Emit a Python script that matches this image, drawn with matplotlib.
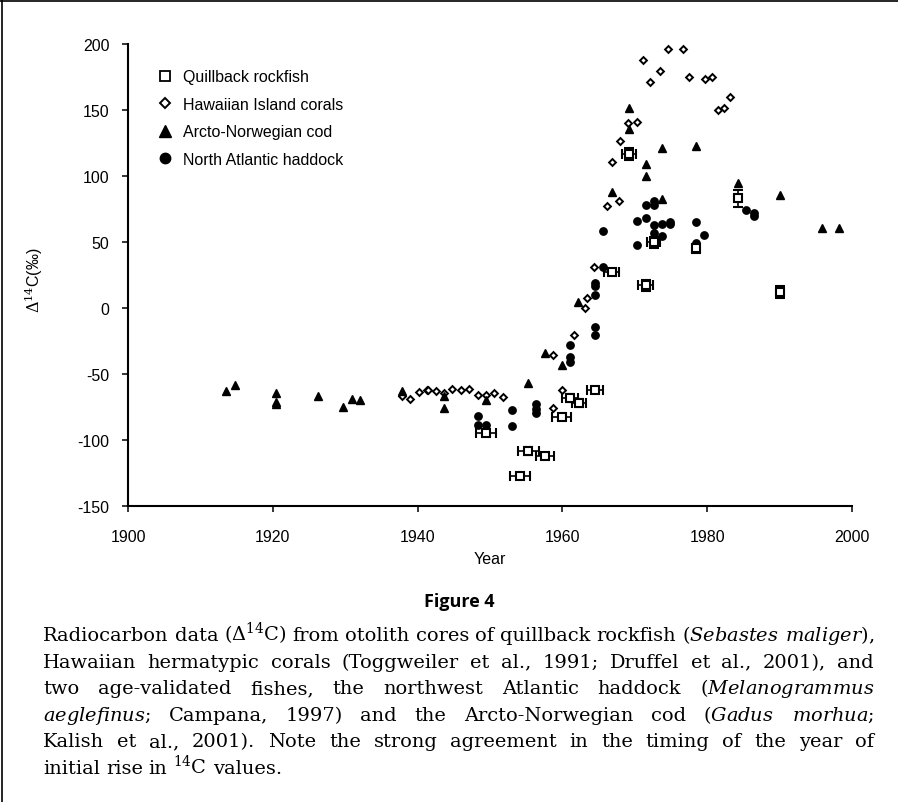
import matplotlib
matplotlib.use("Agg")
import matplotlib.pyplot as plt
from matplotlib.lines import Line2D
import numpy as np

plt.rcParams['font.family'] = ['Liberation Sans', 'DejaVu Sans']
plt.rcParams['axes.unicode_minus'] = False
plt.rcParams['mathtext.fontset'] = 'custom'
plt.rcParams['mathtext.rm'] = 'DejaVu Serif'
plt.rcParams['mathtext.it'] = 'DejaVu Serif:italic'

# quillback rockfish (open squares with error bars)
q_year = [1949.4, 1954.1, 1955.3, 1957.6, 1959.9, 1961.0, 1962.3, 1964.5,
          1966.8, 1969.2, 1971.5, 1972.6, 1978.4, 1984.2, 1990.1]
q_val = [-94.7, -127, -108.6, -112.2, -82.8, -68.4, -72, -62.1,
         27.5, 116.7, 17.1, 49.8, 45.2, 83.1, 12.2]
q_xerr = [1.4, 1.4, 1.4, 1.2, 1.3, 1.1, 1.0, 1.15, 1.0, 1.0, 1.0, 0.9, 0.4, 0, 0]
q_yerr = [2, 2, 3, 2, 2, 3, 3, 2, 2, 4.5, 4, 4, 3.5, 6.5, 4.5]

# Hawaiian corals (open diamonds)
h_year = [1937.9, 1939.0, 1940.2, 1941.3, 1941.5, 1942.5, 1943.7, 1944.8, 1946.0,
          1947.1, 1948.3, 1949.4, 1950.6, 1951.8, 1958.7, 1959.9, 1958.7, 1961.6,
          1963.1, 1963.4, 1964.4, 1966.1, 1967.8, 1966.8, 1968.0, 1969.0, 1970.3,
          1971.1, 1972.1, 1973.5, 1974.6, 1976.6, 1977.5, 1979.7, 1980.6, 1981.5,
          1982.3, 1983.2]
h_val = [-66.4, -69, -63.9, -62.3, -61.8, -62.6, -64.6, -61.4, -62.1,
         -61.4, -65.9, -65.7, -64.4, -67.7, -76, -62.1, -35.4, -20.5,
         -0.2, 7.3, 30.8, 77, 80.8, 110.4, 126.3, 140.2, 140.7,
         188.1, 171.4, 179.8, 196.2, 196.2, 175.2, 173.5, 174.7, 150,
         151.5, 159.6]

# Arcto-Norwegian cod (filled triangles)
c_year = [1913.6, 1914.8, 1920.5, 1920.5, 1920.5, 1926.3, 1929.7, 1931.0, 1932.1,
          1937.9, 1943.7, 1943.7, 1949.4, 1955.3, 1957.6, 1959.9, 1962.2, 1966.8,
          1969.2, 1969.2, 1971.5, 1971.5, 1973.8, 1973.8, 1978.4, 1984.2, 1990.1,
          1995.8, 1998.2]
c_val = [-62.6, -58.1, -64.6, -71, -73, -66.4, -74.8, -69, -69.5,
         -62.6, -66.9, -76, -69.5, -56.8, -34.1, -43, 4.5, 87.7,
         151.5, 135.6, 109.1, 100.2, 121.2, 82.4, 122.5, 94.7, 85.8,
         60.9, 60.4]

# North Atlantic haddock (filled circles)
n_year = [1948.3, 1948.3, 1949.4, 1953.0, 1953.0, 1956.4, 1956.4, 1956.4, 1961.0,
          1961.0, 1961.0, 1964.5, 1964.5, 1964.5, 1964.5, 1964.5, 1965.6, 1965.6,
          1970.3, 1970.3, 1971.5, 1971.5, 1972.6, 1972.6, 1972.6, 1972.6, 1973.8,
          1973.8, 1974.9, 1974.9, 1978.4, 1978.4, 1979.6, 1985.3, 1986.5, 1986.5]
n_val = [-81.6, -88.4, -88.4, -77, -89.6, -72.7, -76.5, -79.8, -28,
         -37.4, -41.1, 18.7, 16.4, 10.1, -14.2, -20.5, 30.8, 58.1,
         47.7, 66.1, 68.3, 78, 81.3, 78.3, 62.9, 56.8, 63.6,
         54.6, 65.3, 63.5, 64.9, 49.2, 55.6, 74.2, 72, 69.5]

labels = ["Quillback rockfish", "Hawaiian Island corals",
          "Arcto-Norwegian cod", "North Atlantic haddock"]

W, H = 898, 803
fig = plt.figure(figsize=(W / 100, H / 100), dpi=100)
ax = fig.add_axes([128 / W, (H - 507) / H, 724 / W, 462 / H])

ax.plot(h_year, h_val, ls='none', marker='D', ms=3.5, mfc='white', mec='black', mew=1.4)
ax.plot(c_year, c_val, ls='none', marker='^', ms=5.5, color='black')
ax.plot(n_year, n_val, ls='none', marker='o', ms=5.3, color='black')
ax.errorbar(q_year, q_val, xerr=q_xerr, yerr=q_yerr, fmt='s', ms=6, mfc='white',
            mec='black', mew=1.5, ecolor='black', elinewidth=1.2, capsize=3.6,
            capthick=1.2)

ax.set_xlim(1900, 2000)
ax.set_ylim(-150, 200)
ax.set_xticks(np.arange(1900, 2001, 20))
ax.set_yticks(np.arange(-150, 201, 50))
for s in ['top', 'right']:
    ax.spines[s].set_visible(False)
for s in ['left', 'bottom']:
    ax.spines[s].set_linewidth(1.5)
ax.tick_params(axis='both', direction='out', length=4.5, width=1.1, labelsize=11.5)
ax.tick_params(axis='x', pad=12)
ax.tick_params(axis='y', pad=9)
ax.set_xlabel("Year", fontsize=11.5)
ax.xaxis.set_label_coords(0.5, -0.097)
ax.set_ylabel(r"$\mathit{\Delta}^{14}$C(‰)", fontsize=11.5)
ax.yaxis.set_label_coords(-0.114, 0.49)

handles = [
    Line2D([], [], ls='none', marker='s', ms=7.5, mfc='white', mec='black', mew=1.3),
    Line2D([], [], ls='none', marker='D', ms=5.5, mfc='white', mec='black', mew=1.4),
    Line2D([], [], ls='none', marker='^', ms=8, color='black'),
    Line2D([], [], ls='none', marker='o', ms=7.5, color='black'),
]
ax.legend(handles, labels, loc='upper left', bbox_to_anchor=(0.040, 0.945),
          frameon=False, fontsize=11.5, borderpad=0, borderaxespad=0,
          handlelength=1.0, handletextpad=0.65, labelspacing=0.78)

# page frame (top and left rules)
fig.add_artist(Line2D([0, 1], [1 - 1.5 / H, 1 - 1.5 / H], color='black', lw=1.2))
fig.add_artist(Line2D([1.5 / W, 1.5 / W], [0, 1], color='black', lw=1.2))

fig.text(459 / W, 1 - 602 / H, "Figure 4", family='Open Sans', weight='bold',
         fontsize=13, ha='center', va='center')

# justified caption
caption = [
    r"Radiocarbon data ($\mathit{\Delta}^{14}$C) from otolith cores of quillback rockfish ($\mathit{Sebastes}$ $\mathit{maliger}$),",
    "Hawaiian hermatypic corals (Toggweiler et al., 1991; Druffel et al., 2001), and",
    r"two age-validated fishes, the northwest Atlantic haddock ($\mathit{Melanogrammus}$",
    r"$\mathit{aeglefinus}$; Campana, 1997) and the Arcto-Norwegian cod ($\mathit{Gadus}$ $\mathit{morhua}$;",
    "Kalish et al., 2001). Note the strong agreement in the timing of the year of",
    r"initial rise in $^{14}$C values.",
]
x0, x1 = 43, 874
base0, step = 641, 26.6
renderer = fig.canvas.get_renderer()


def make_words(words, y, fs):
    items = [fig.text(0, 1 - y / H, w, family='DejaVu Serif', fontsize=fs,
                      va='baseline') for w in words]
    widths = [t.get_window_extent(renderer).width for t in items]
    return items, widths


# pick the font size at which the widest line fits with a normal word gap
ref_fs = 10.0
need = []
for line in caption[:-1]:
    words = line.split(' ')
    items, widths = make_words(words, 0, ref_fs)
    for t in items:
        t.remove()
    need.append(sum(widths) + (len(words) - 1) * 0.3 * ref_fs * 100 / 72)
cap_fs = ref_fs * (x1 - x0) / max(need)

for i, line in enumerate(caption):
    y = base0 + i * step
    items, widths = make_words(line.split(' '), y, cap_fs)
    if i == len(caption) - 1:
        gap = 0.3 * cap_fs * 100 / 72
    else:
        gap = (x1 - x0 - sum(widths)) / (len(items) - 1)
    x = x0
    for t, w in zip(items, widths):
        t.set_x(x / W)
        x += w + gap

fig.savefig("out.png", dpi=100)
